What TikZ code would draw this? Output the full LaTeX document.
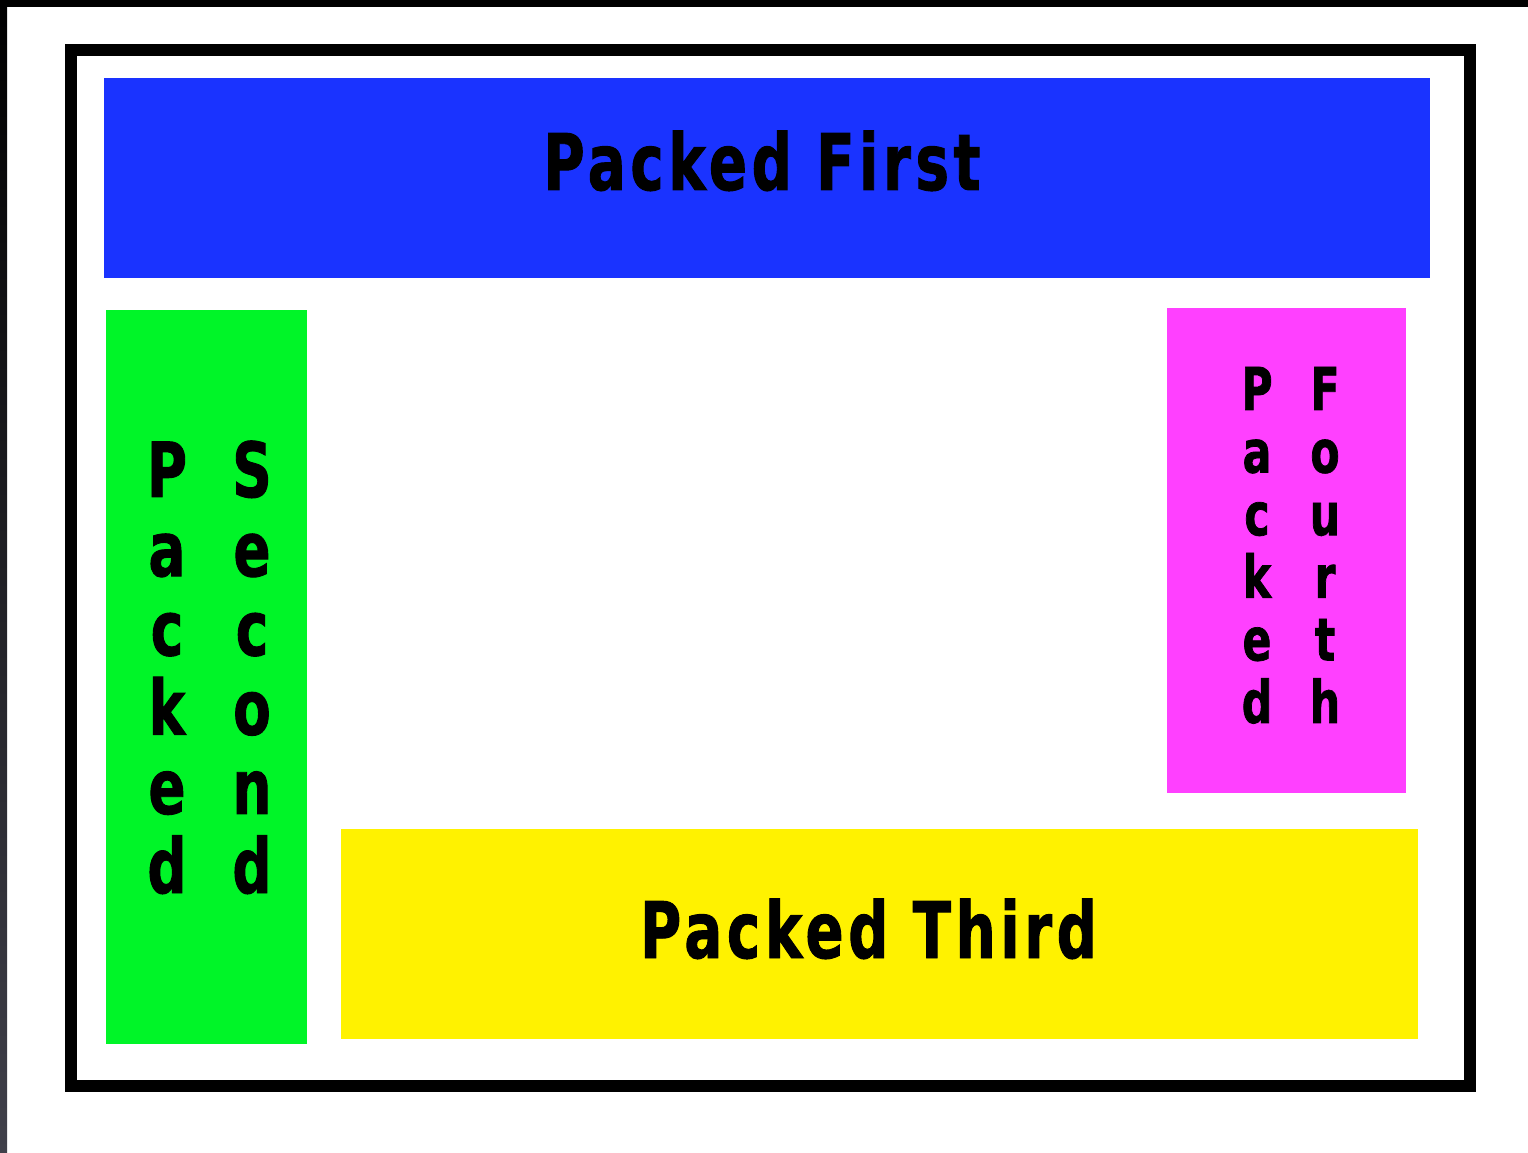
\documentclass[tikz,border=0pt]{standalone}
\usepackage{fontspec}
\newfontfamily\packfont{DejaVu Sans}[FakeStretch=0.72,LetterSpace=6,FakeBold=1.2]
\definecolor{packblue}{RGB}{26,51,255}
\definecolor{packgreen}{RGB}{0,245,40}
\definecolor{packpink}{RGB}{255,64,255}
\definecolor{packyellow}{RGB}{255,242,0}
\definecolor{edgegray}{RGB}{64,64,74}
\tikzset{
  wide/.style={anchor=base,inner sep=0pt,font=\packfont\bfseries\fontsize{22.2}{24}\selectfont},
  tall/.style={anchor=base,inner sep=0pt,font=\packfont\bfseries\fontsize{21.6}{24}\selectfont},
  small/.style={anchor=base,inner sep=0pt,font=\packfont\bfseries\fontsize{16.8}{18}\selectfont}
}
\begin{document}
\begin{tikzpicture}
\useasboundingbox (0,0) rectangle (15.28,11.52);
\fill[white] (0,0) rectangle (15.28,11.52);
\fill (0,11.45) rectangle (15.28,11.52);
\shade[top color=black,bottom color=edgegray] (0,0) rectangle (0.07,11.52);
\draw[line width=0.12cm] (0.71,11.02) rectangle (14.695,0.66);
% the four packed boxes
\fill[packblue] (1.04,10.74) rectangle (14.30,8.74);
\fill[packgreen] (1.06,8.42) rectangle (3.07,1.08);
\fill[packpink] (11.67,8.44) rectangle (14.06,3.59);
\fill[packyellow] (3.41,3.23) rectangle (14.18,1.13);
\node[wide] (first) at (7.62,9.62) {Packed First};
\node[wide] (third) at (8.685,1.94) {Packed Third};
\foreach \ch [count=\i] in {P,a,c,k,e,d}
  \node[tall] (second-a\i) at (1.67,6.55-0.792*\i+0.792) {\ch};
\foreach \ch [count=\i] in {S,e,c,o,n,d}
  \node[tall] (second-b\i) at (2.52,6.55-0.792*\i+0.792) {\ch};
\foreach \ch [count=\i] in {P,a,c,k,e,d}
  \node[small] (fourth-a\i) at (12.57,7.42-0.626*\i+0.626) {\ch};
\foreach \ch [count=\i] in {F,o,u,r,t,h}
  \node[small] (fourth-b\i) at (13.25,7.42-0.626*\i+0.626) {\ch};
\end{tikzpicture}
\end{document}
